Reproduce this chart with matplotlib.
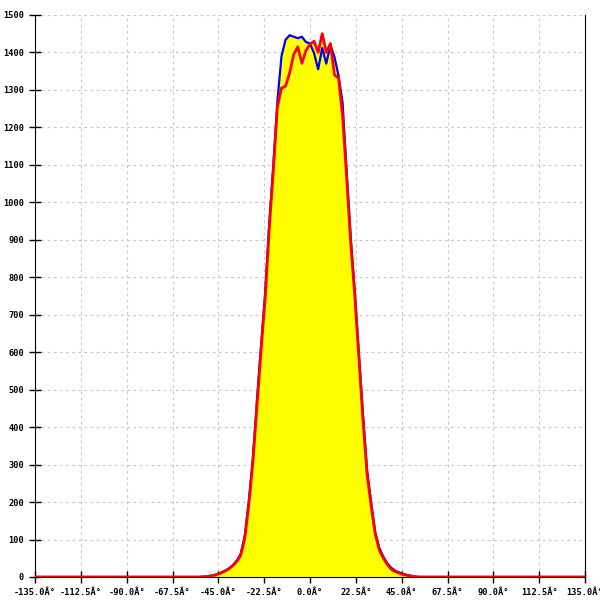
import numpy as np
import matplotlib
matplotlib.use("Agg")
import matplotlib.pyplot as plt

# angle bins (degrees)
angles = [-135, -56, -54, -52, -50, -48, -46, -44, -42, -40, -38, -36, -34, -32, -30,
          -28, -26, -24, -22, -20, -18, -16, -14, -12, -10, -8, -6, -4, -2, 0,
          2, 4, 6, 8, 10, 12, 14, 16, 18, 20, 22, 24, 26, 28, 30,
          32, 34, 36, 38, 40, 42, 44, 46, 48, 50, 52, 54, 56, 135]

blue_vals = [0, 0, 0, 1, 2, 4, 7, 11, 16, 22, 31, 43, 62, 110, 205,
             320, 475, 620, 760, 945, 1100, 1270, 1390, 1434, 1446, 1442, 1438, 1442, 1428, 1424,
             1398, 1355, 1412, 1370, 1420, 1388, 1338, 1265, 1080, 905, 760, 595, 435, 285, 200,
             120, 78, 54, 36, 24, 16, 12, 8, 5, 3, 1, 0, 0, 0]

red_vals = [0, 0, 0, 1, 2, 3, 6, 10, 15, 21, 30, 41, 58, 105, 195,
            310, 460, 606, 745, 930, 1086, 1255, 1305, 1310, 1345, 1395, 1415, 1371, 1405, 1422,
            1430, 1400, 1450, 1400, 1424, 1340, 1332, 1230, 1065, 890, 750, 585, 420, 275, 190,
            115, 72, 50, 33, 20, 14, 10, 6, 4, 2, 0, 0, 0, 0]

x = np.array(angles, dtype=float)
blue = np.array(blue_vals, dtype=float)
red = np.array(red_vals, dtype=float)

plt.rcParams['axes.unicode_minus'] = False
fig = plt.figure(figsize=(6, 6), dpi=100)
ax = fig.add_axes([35 / 600, 23 / 600, 550 / 600, 562 / 600])

ax.fill_between(x, 0, np.maximum(blue, red), color='#ffff00', zorder=2)
ax.plot(x, blue, color='#0000ff', lw=1.6, zorder=3)
ax.plot(x, red, color='#ff0000', lw=2.0, zorder=4)

ax.set_xlim(-135, 135)
ax.set_ylim(0, 1500)

xticks = np.arange(-135, 135.1, 22.5)
ax.set_xticks(xticks)
ax.set_xticklabels([f"{v:.1f}Â°" for v in xticks])
yticks = np.arange(0, 1501, 100)
ax.set_yticks(yticks)
ax.set_yticklabels([str(v) for v in yticks])

for lab in ax.get_xticklabels() + ax.get_yticklabels():
    lab.set_family('DejaVu Sans Mono')
    lab.set_fontsize(6.2)
    lab.set_fontweight('bold')

ax.tick_params(axis='both', direction='inout', length=8, width=1, color='black', pad=4)
ax.grid(True, color='#c8c8c8', linestyle=(0, (2.5, 3)), linewidth=0.8, zorder=0)

ax.spines['top'].set_visible(False)
ax.spines['right'].set_color('black')
ax.spines['left'].set_color('black')
ax.spines['bottom'].set_color('black')

fig.savefig('out.png', dpi=100)
